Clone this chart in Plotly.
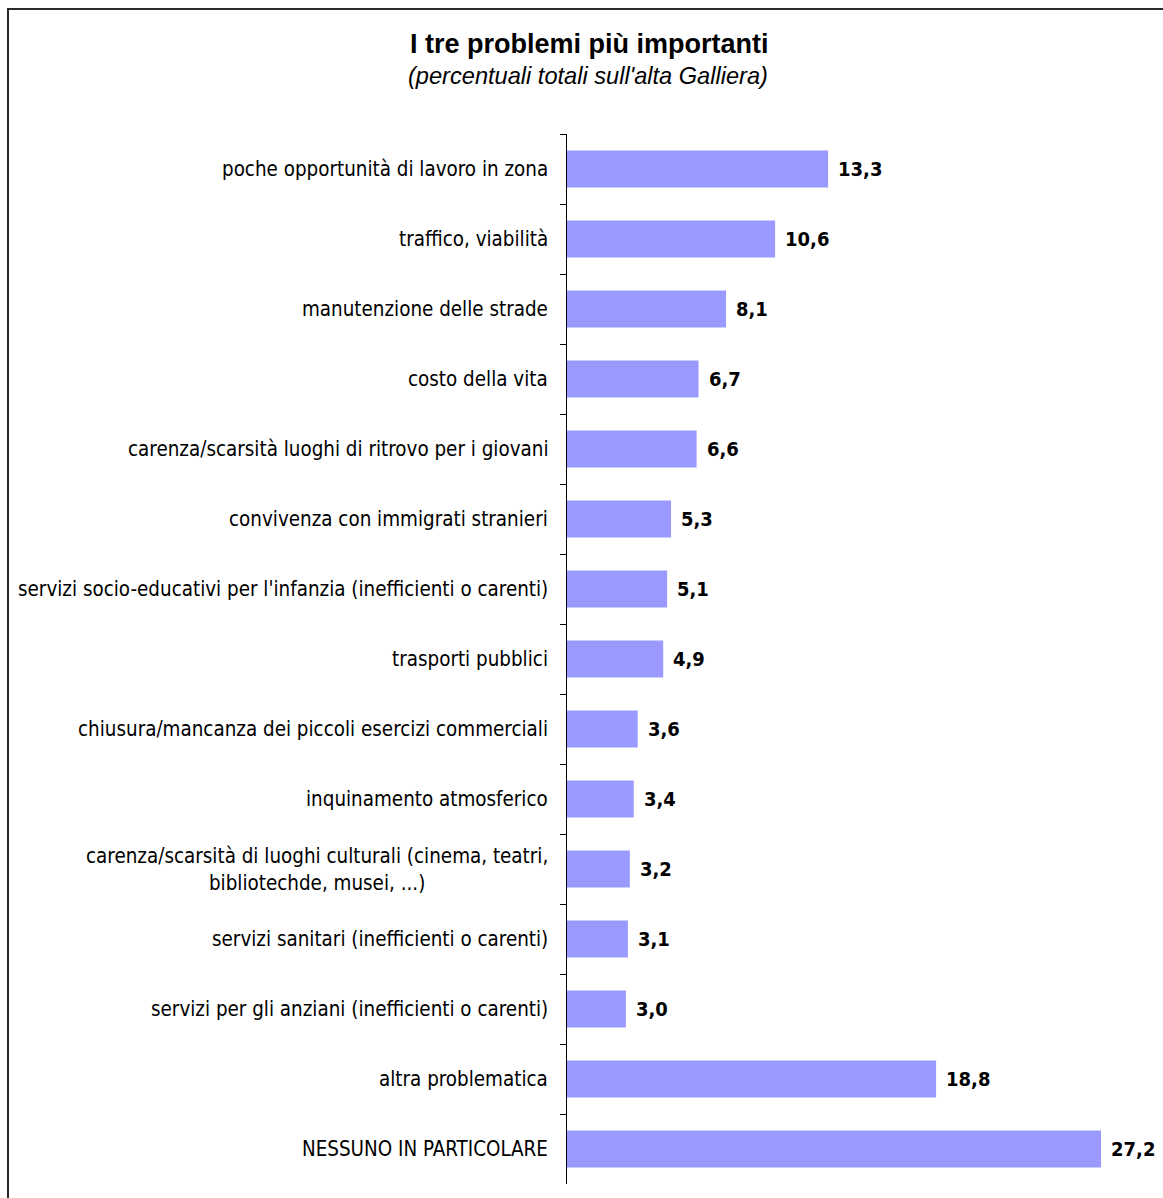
import plotly.graph_objects as go

# Problems, top to bottom, with their share of mentions (%)
categories = [
    "poche opportunità di lavoro in zona",
    "traffico, viabilità",
    "manutenzione delle strade",
    "costo della vita",
    "carenza/scarsità luoghi di ritrovo per i giovani",
    "convivenza con immigrati stranieri",
    "servizi socio-educativi per l'infanzia (inefficienti o carenti)",
    "trasporti pubblici",
    "chiusura/mancanza dei piccoli esercizi commerciali",
    "inquinamento atmosferico",
    "carenza/scarsità di luoghi culturali (cinema, teatri,<br>bibliotechde, musei, ...)",
    "servizi sanitari (inefficienti o carenti)",
    "servizi per gli anziani (inefficienti o carenti)",
    "altra problematica",
    "NESSUNO IN PARTICOLARE",
]
values = [13.3, 10.6, 8.1, 6.7, 6.6, 5.3, 5.1, 4.9, 3.6, 3.4, 3.2, 3.1, 3.0, 18.8, 27.2]

title_text = "I tre problemi più importanti"
subtitle_text = "(percentuali totali sull'alta Galliera)"

W, H = 1163, 1198
ML, MR, MT, MB = 567, 7, 134, 14
PW, PH = W - ML - MR, H - MT - MB

label_font = dict(family="DejaVu Sans Condensed, DejaVu Sans, sans-serif", size=20.4, color="black")
value_font = dict(family="DejaVu Sans Condensed, DejaVu Sans, sans-serif", size=20, color="black")

fig = go.Figure(
    go.Bar(
        x=values,
        y=categories,
        orientation="h",
        marker=dict(color="#9999FF", line=dict(width=0)),
        hoverinfo="skip",
    )
)


def px_to_paper_y(py):
    return (H - MB - py) / PH


def px_to_paper_x(px):
    return (px - ML) / PW


annotations = []
# category labels, centred lines, right-aligned against the axis
for cat in categories:
    annotations.append(dict(
        x=0, xref="paper", y=cat, yref="y",
        text=cat, showarrow=False,
        xanchor="right", yanchor="middle", align="center",
        xshift=-17, font=label_font,
    ))
# value labels at the end of each bar
for cat, v in zip(categories, values):
    annotations.append(dict(
        x=v, xref="x", y=cat, yref="y",
        text="<b>" + f"{v:.1f}".replace(".", ",") + "</b>",
        showarrow=False, xanchor="left", yanchor="middle",
        xshift=8, font=value_font,
    ))
# title and subtitle
annotations.append(dict(
    x=px_to_paper_x(589), xref="paper", y=px_to_paper_y(44), yref="paper",
    text="<b>" + title_text + "</b>", showarrow=False,
    xanchor="center", yanchor="middle",
    font=dict(family="Liberation Sans, Arial, sans-serif", size=27, color="black"),
))
annotations.append(dict(
    x=px_to_paper_x(588), xref="paper", y=px_to_paper_y(76), yref="paper",
    text="<i>" + subtitle_text + "</i>", showarrow=False,
    xanchor="center", yanchor="middle",
    font=dict(family="Liberation Sans, Arial, sans-serif", size=23.6, color="black"),
))

# outer frame of the chart area
frame = dict(
    type="rect", xref="paper", yref="paper",
    x0=px_to_paper_x(8), x1=px_to_paper_x(1180),
    y0=px_to_paper_y(1215), y1=px_to_paper_y(9),
    line=dict(color="#2a2a2a", width=2), fillcolor="rgba(0,0,0,0)",
    layer="below",
)

fig.update_layout(
    width=W, height=H,
    autosize=False,
    margin=dict(l=ML, r=MR, t=MT, b=MB, pad=0),
    paper_bgcolor="white",
    plot_bgcolor="white",
    showlegend=False,
    bargap=0.47,
    annotations=annotations,
    shapes=[frame],
    xaxis=dict(
        range=[0, 30], visible=False, fixedrange=True,
    ),
    yaxis=dict(
        type="category",
        categoryorder="array", categoryarray=categories,
        range=[len(categories) - 0.5, -0.5],
        showticklabels=False,
        tickson="boundaries", ticks="outside", ticklen=6,
        tickcolor="black", tickwidth=1,
        showline=True, linecolor="black", linewidth=1,
        showgrid=False, zeroline=False, fixedrange=True,
    ),
)

fig.write_html("out.html")
